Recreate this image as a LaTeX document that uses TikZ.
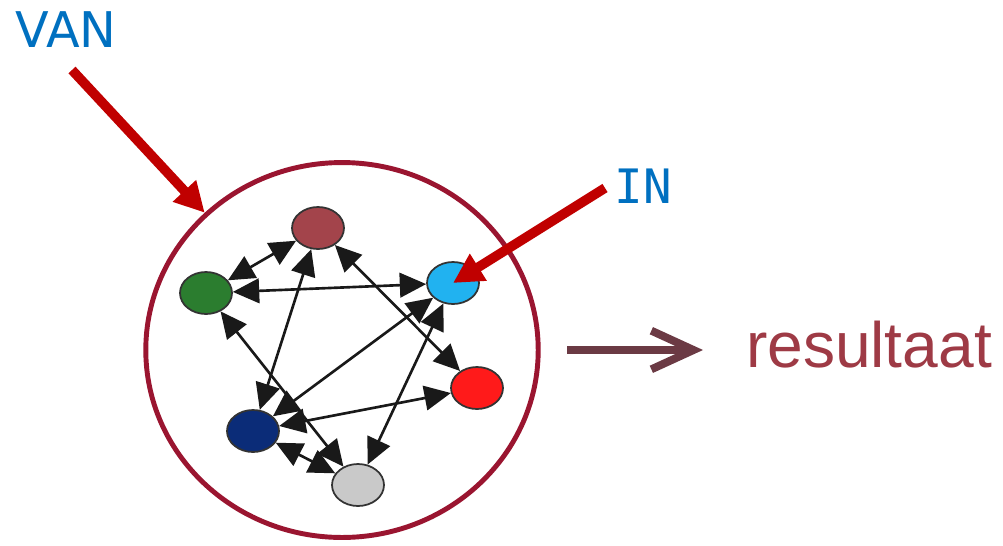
\documentclass[tikz,border=0pt]{standalone}
\usepackage{fontspec}
\setmainfont{Liberation Sans}
\newfontfamily\vanfont{DejaVu Sans}
\newfontfamily\infont{DejaVu Sans Mono}
\usetikzlibrary{shapes.geometric,arrows.meta}
\definecolor{ringred}{HTML}{9A1530}
\definecolor{pointred}{HTML}{C00000}
\definecolor{labelblue}{HTML}{0070C0}
\definecolor{resbrown}{HTML}{9E3A45}
\definecolor{flowbrown}{HTML}{6B3A44}
\definecolor{brownnode}{HTML}{A3444B}
\definecolor{greennode}{HTML}{2B7D2F}
\definecolor{cyannode}{HTML}{21B2F0}
\definecolor{rednode}{HTML}{FF1A1A}
\definecolor{navynode}{HTML}{0B2C78}
\definecolor{graynode}{HTML}{C9C9C9}

\begin{document}
\begin{tikzpicture}[x=0.02cm,y=-0.02cm,
    dot/.style={ellipse,draw=black!80,line width=1pt,minimum width=1.04cm,minimum height=0.84cm,inner sep=0pt},
    link/.style={{Triangle[length=15pt,width=14pt]}-{Triangle[length=15pt,width=14pt]},line width=1.5pt,black!90},
    pointer/.style={-{Triangle[length=17pt,width=17pt]},line width=5.5pt,pointred}]
    \useasboundingbox (0,0) rectangle (1003,545);
    % the network
    \node [ellipse,draw=ringred,line width=2.8pt,minimum width=7.85cm,minimum height=7.5cm,inner sep=0pt] (ring) at (342,350) {};
    \node [dot,fill=brownnode] (brown) at (318,228) {};
    \node [dot,fill=greennode] (green) at (206,293) {};
    \node [dot,fill=cyannode] (cyan) at (453,283) {};
    \node [dot,fill=rednode] (red) at (477,388) {};
    \node [dot,fill=navynode] (navy) at (253,431) {};
    \node [dot,fill=graynode] (gray) at (358,485) {};
    \draw [link] (brown) -- (green);
    \draw [link] (green) -- (cyan);
    \draw [link] (brown) -- (red);
    \draw [link] (brown) -- (navy);
    \draw [link] (green) -- (gray);
    \draw [link] (cyan) -- (navy);
    \draw [link] (cyan) -- (gray);
    \draw [link] (navy) -- (red);
    \draw [link] (navy) -- (gray);
    % labels
    \node [text=labelblue,font=\vanfont\fontsize{28}{30}\selectfont] (van) at (66,30) {VAN};
    \node [text=labelblue,font=\infont\fontsize{27}{30}\selectfont] (in) at (643,186) {IN};
    \node [text=resbrown,font=\fontsize{36.5}{40}\selectfont] (result) at (869,345) {resultaat};
    \coordinate (vanstart) at (72,70);
    \coordinate (instart) at (605,188);
    \coordinate (flowstart) at (567,350);
    \coordinate (flowend) at (703,350);
    \draw [pointer] (vanstart) -- (ring.135);
    \draw [pointer] (instart) -- (cyan.center);
    \draw [-{Straight Barb[length=24pt,width=22pt]},line width=4.5pt,flowbrown] (flowstart) -- (flowend);
\end{tikzpicture}
\end{document}
